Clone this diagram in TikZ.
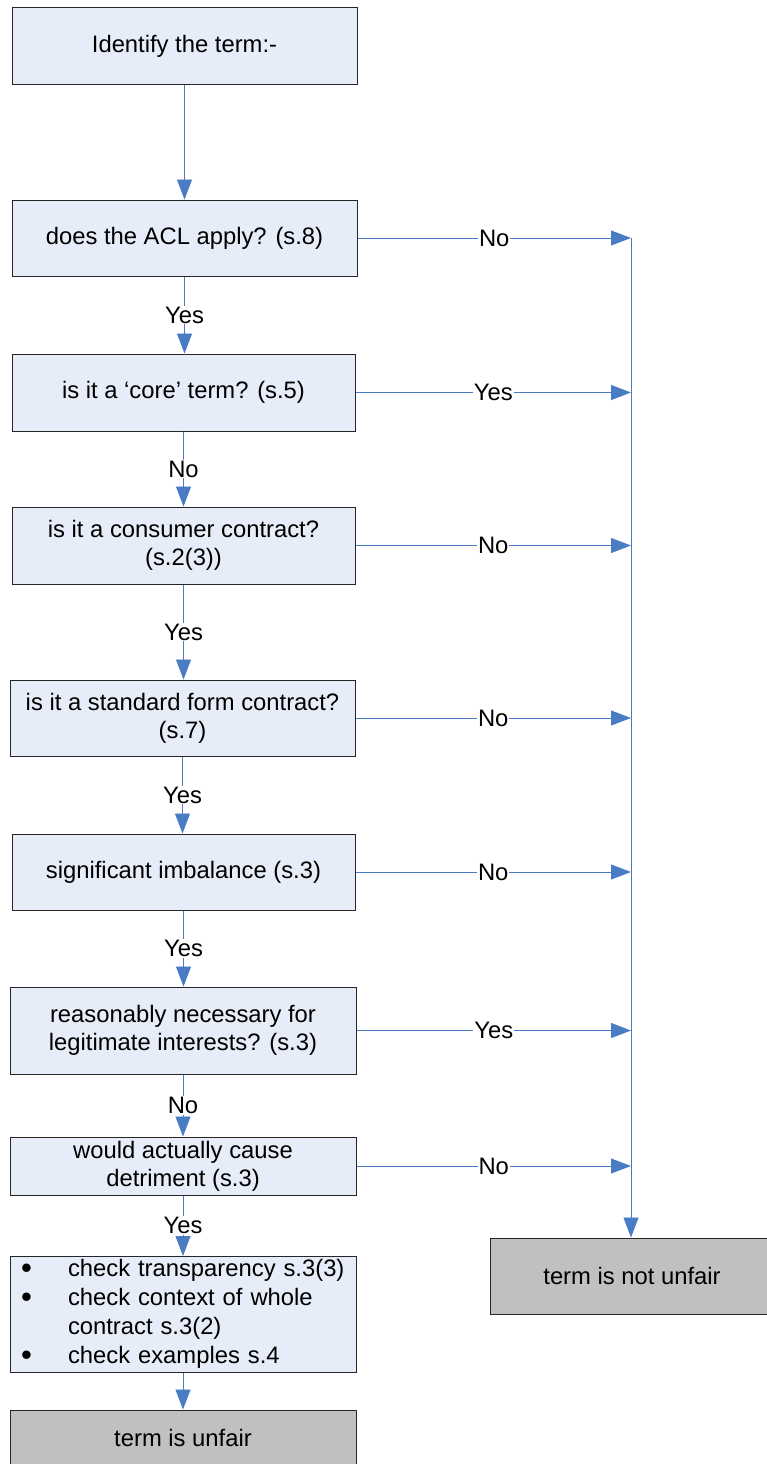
\documentclass[tikz,border=0pt]{standalone}
\usepackage{fontspec}
\setmainfont{Liberation Sans}
\usetikzlibrary{arrows.meta}
\definecolor{boxfill}{HTML}{E7EDF8}
\definecolor{grayfill}{HTML}{C0C0C0}
\definecolor{linkblue}{HTML}{4A7CC4}
\newcommand{\bigbul}{\smash{\raisebox{-2pt}{\fontsize{31}{29}\selectfont\textbullet}}}
\begin{document}
\begin{tikzpicture}[x=1pt,y=-1pt,
  every node/.style={font=\fontsize{23.8}{28}\selectfont},
  box/.style={draw=black!85, line width=1pt, fill=boxfill, inner sep=0pt, align=center},
  endbox/.style={draw=black!85, line width=1pt, fill=grayfill, inner sep=0pt, align=center},
  arr/.style={draw=linkblue, line width=0.9pt, -{Triangle[length=20pt,width=15pt]}},
  lbl/.style={fill=white, inner sep=1pt}]
\useasboundingbox (0,0) rectangle (766,1464);
\node[box, minimum width=345pt, minimum height=76pt] (b1) at (184.5,46) {Identify the term:-};
\node[box, minimum width=345pt, minimum height=76pt] (b2) at (184.5,238) {does the ACL apply? (s.8)};
\node[box, minimum width=343pt, minimum height=77pt] (b3) at (183.5,392.5) {is it a ‘core’ term? (s.5)};
\node[box, minimum width=343pt, minimum height=77pt] (b4) at (183.5,545.5) {is it a consumer contract?\\(s.2(3))};
\node[box, minimum width=345pt, minimum height=76pt] (b5) at (182.5,718) {is it a standard form contract?\\(s.7)};
\node[box, minimum width=343pt, minimum height=76pt] (b6) at (183.5,872) {significant imbalance (s.3)};
\node[box, minimum width=346pt, minimum height=87pt] (b7) at (183,1030.5) {reasonably necessary for\\legitimate interests? (s.3)};
\node[box, minimum width=346pt, minimum height=58pt] (b8) at (183,1166) {would actually cause\\detriment (s.3)};
\node[box, minimum width=346pt, minimum height=115pt, text width=324pt, align=left] (b9) at (183,1314.5) {\fontsize{23.8}{29}\selectfont\begin{tabular}{@{}p{47pt}@{}l@{}}
\bigbul & check transparency s.3(3)\\
\bigbul & check context of whole\\
 & contract s.3(2)\\
\bigbul & check examples s.4
\end{tabular}};
\node[endbox, minimum width=346pt, minimum height=56pt] (b10) at (183,1438) {term is unfair};
\node[endbox, minimum width=284pt, minimum height=76pt] (n) at (632,1276) {term is not unfair};
\coordinate (rl) at (631,238);
% vertical flow
\draw[arr] (b1.south) -- (b1.south |- b2.north);
\draw[arr] (b2.south) -- (b2.south |- b3.north) node[midway,lbl] {Yes};
\draw[arr] (b3.south) -- (b3.south |- b4.north) node[midway,lbl] {No};
\draw[arr] (b4.south) -- (b4.south |- b5.north) node[midway,lbl] {Yes};
\draw[arr] (b5.south) -- (b5.south |- b6.north) node[midway,lbl] {Yes};
\draw[arr] (b6.south) -- (b6.south |- b7.north) node[midway,lbl] {Yes};
\draw[arr] (b7.south) -- (b7.south |- b8.north) node[midway,lbl] {No};
\draw[arr] (b8.south) -- (b8.south |- b9.north) node[midway,lbl] {Yes};
\draw[arr] (b9.south) -- (b9.south |- b10.north);
% right side
\draw[arr] (rl) -- (rl |- n.north);
\draw[arr] (b2.east) -- (b2.east -| rl) node[midway,lbl] {No};
\draw[arr] (b3.east) -- (b3.east -| rl) node[midway,lbl] {Yes};
\draw[arr] (b4.east) -- (b4.east -| rl) node[midway,lbl] {No};
\draw[arr] (b5.east) -- (b5.east -| rl) node[midway,lbl] {No};
\draw[arr] (b6.east) -- (b6.east -| rl) node[midway,lbl] {No};
\draw[arr] (b7.east) -- (b7.east -| rl) node[midway,lbl] {Yes};
\draw[arr] (b8.east) -- (b8.east -| rl) node[midway,lbl] {No};
\end{tikzpicture}
\end{document}
